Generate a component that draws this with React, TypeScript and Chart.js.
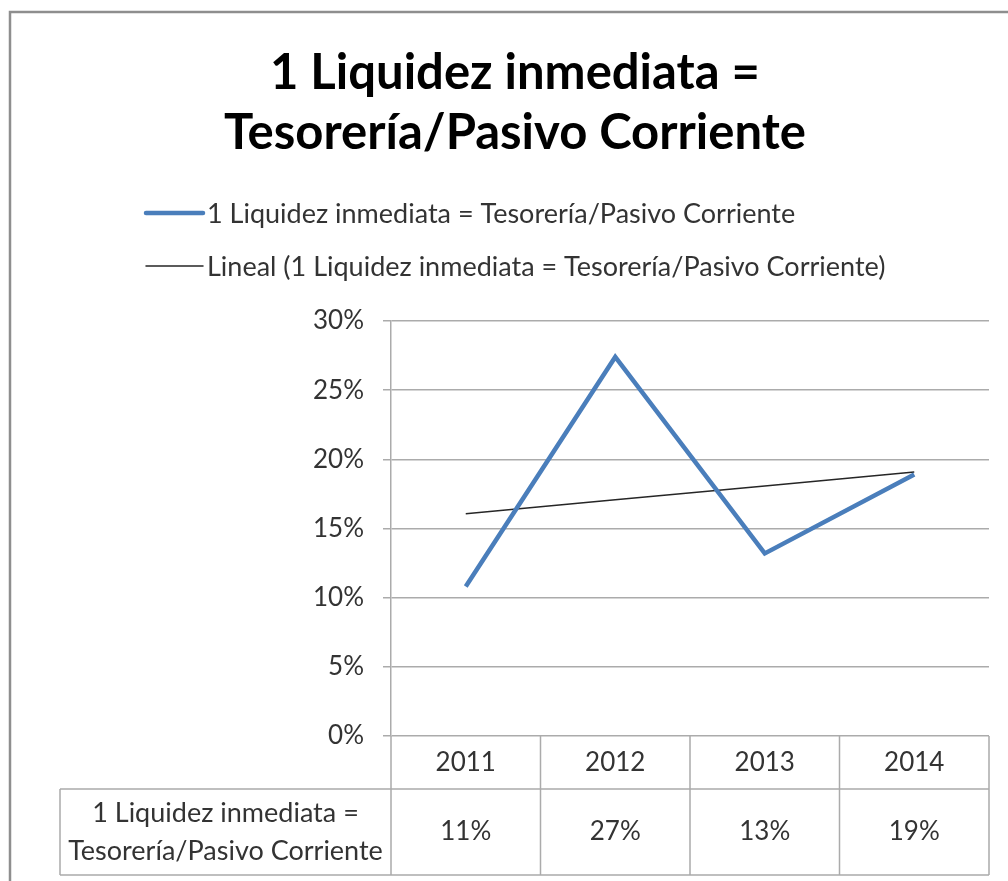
import React, { useEffect, useRef } from "react";
import { Chart, registerables } from "chart.js";

Chart.register(...registerables);

// ---- data ----
const titleLines = ["1 Liquidez inmediata =", "Tesorería/Pasivo Corriente"];
const seriesName = "1 Liquidez inmediata = Tesorería/Pasivo Corriente";
const trendName = "Lineal (1 Liquidez inmediata = Tesorería/Pasivo Corriente)";
const tableRowLabel = ["1 Liquidez inmediata =", "Tesorería/Pasivo Corriente"];
const years = ["2011", "2012", "2013", "2014"];
const liquidez = [10.8, 27.4, 13.2, 18.9];
const tableValues = ["11%", "27%", "13%", "19%"];
const yMin = 0;
const yMax = 30;
const yStep = 5;

// Excel "Lineal" trendline = least-squares fit of the series
function linearTrend(values: number[]): number[] {
  const n = values.length;
  const xs = values.map((_, i) => i + 1);
  const mx = xs.reduce((a, b) => a + b, 0) / n;
  const my = values.reduce((a, b) => a + b, 0) / n;
  let num = 0;
  let den = 0;
  for (let i = 0; i < n; i++) {
    num += (xs[i] - mx) * (values[i] - my);
    den += (xs[i] - mx) * (xs[i] - mx);
  }
  const slope = num / den;
  const b = my - slope * mx;
  return xs.map((x) => slope * x + b);
}
const trend = linearTrend(liquidez);

const FONT = "Lato, 'Open Sans', sans-serif";
const TEXT = "#333333";
const GRID = "#ababab";
const BLUE = "#4A7EBB";

const decorPlugin = {
  id: "decor",
  beforeDraw(chart: any) {
    const ctx = chart.ctx as CanvasRenderingContext2D;
    ctx.save();
    ctx.fillStyle = "#ffffff";
    ctx.fillRect(0, 0, chart.width, chart.height);
    // outer frame
    ctx.strokeStyle = "#8e8e8e";
    ctx.lineWidth = 2.5;
    ctx.strokeRect(10, 12, chart.width + 40, chart.height + 40);
    // title
    ctx.fillStyle = "#000000";
    ctx.font = `bold 49px ${FONT}`;
    ctx.textAlign = "center";
    ctx.textBaseline = "middle";
    titleLines.forEach((t, i) => ctx.fillText(t, 515, 73 + i * 60));
    // legend
    const legendItems = [
      { text: seriesName, color: BLUE, width: 4.5, y: 213 },
      { text: trendName, color: "#262626", width: 1.5, y: 266 },
    ];
    ctx.textAlign = "left";
    ctx.font = `27px ${FONT}`;
    legendItems.forEach((it) => {
      ctx.strokeStyle = it.color;
      ctx.lineWidth = it.width;
      ctx.lineCap = "round";
      ctx.beginPath();
      ctx.moveTo(146, it.y);
      ctx.lineTo(203, it.y);
      ctx.stroke();
      ctx.fillStyle = TEXT;
      ctx.fillText(it.text, 207, it.y + 1);
    });
    ctx.restore();
  },
  afterDraw(chart: any) {
    const ctx = chart.ctx as CanvasRenderingContext2D;
    const area = chart.chartArea;
    const xs = chart.scales.x;
    const half = (xs.getPixelForValue(1) - xs.getPixelForValue(0)) / 2;
    const rowMid = 789;
    const rowBottom = 875;
    const tableLeft = 60;
    ctx.save();
    ctx.strokeStyle = GRID;
    ctx.lineWidth = 1.5;
    ctx.beginPath();
    for (let i = 0; i <= years.length; i++) {
      const bx = i < years.length ? xs.getPixelForValue(i) - half : xs.getPixelForValue(years.length - 1) + half;
      ctx.moveTo(bx, area.bottom);
      ctx.lineTo(bx, rowBottom);
    }
    ctx.moveTo(tableLeft, rowMid);
    ctx.lineTo(area.right, rowMid);
    ctx.moveTo(tableLeft, rowBottom);
    ctx.lineTo(area.right, rowBottom);
    ctx.moveTo(tableLeft, rowMid);
    ctx.lineTo(tableLeft, rowBottom);
    ctx.stroke();
    // table text
    ctx.fillStyle = TEXT;
    ctx.font = `26px ${FONT}`;
    ctx.textAlign = "center";
    ctx.textBaseline = "middle";
    tableValues.forEach((v, i) => ctx.fillText(v, xs.getPixelForValue(i), 832));
    const lx = (tableLeft + area.left) / 2;
    ctx.font = `27px ${FONT}`;
    tableRowLabel.forEach((t, i) => ctx.fillText(t, lx, 813 + i * 38));
    ctx.restore();
  },
};

export default function App() {
  const ref = useRef<HTMLCanvasElement | null>(null);
  useEffect(() => {
    document.body.style.margin = "0";
    const canvas = ref.current;
    if (!canvas) return;
    const chart = new Chart(canvas, {
      type: "line",
      data: {
        labels: years,
        datasets: [
          {
            label: seriesName,
            data: liquidez,
            borderColor: BLUE,
            borderWidth: 4.5,
            pointRadius: 0,
            tension: 0,
            fill: false,
          },
          {
            label: trendName,
            data: trend,
            borderColor: "#262626",
            borderWidth: 1.5,
            pointRadius: 0,
            tension: 0,
            fill: false,
          },
        ],
      },
      options: {
        responsive: false,
        animation: false,
        devicePixelRatio: 1,
        layout: { padding: { left: 0, right: 19, top: 321, bottom: 0 } },
        plugins: {
          legend: { display: false },
          title: { display: false },
          tooltip: { enabled: false },
        },
        scales: {
          x: {
            offset: true,
            grid: { display: false },
            border: { display: false },
            ticks: { font: { family: FONT, size: 26 }, color: TEXT, padding: 3 },
            afterFit: (s: any) => {
              s.height = 145;
            },
          },
          y: {
            min: yMin,
            max: yMax,
            ticks: {
              stepSize: yStep,
              font: { family: FONT, size: 26 },
              color: TEXT,
              padding: 19,
              callback: (v: any) => `${v}%`,
            },
            grid: { color: GRID, lineWidth: 1.5, tickLength: 8, drawTicks: true },
            border: { display: true, color: GRID, width: 1.5 },
            afterFit: (s: any) => {
              s.width = 391;
            },
          },
        },
      },
      plugins: [decorPlugin],
    });
    return () => chart.destroy();
  }, []);
  return <canvas ref={ref} width={1008} height={881} style={{ display: "block" }} />;
}
